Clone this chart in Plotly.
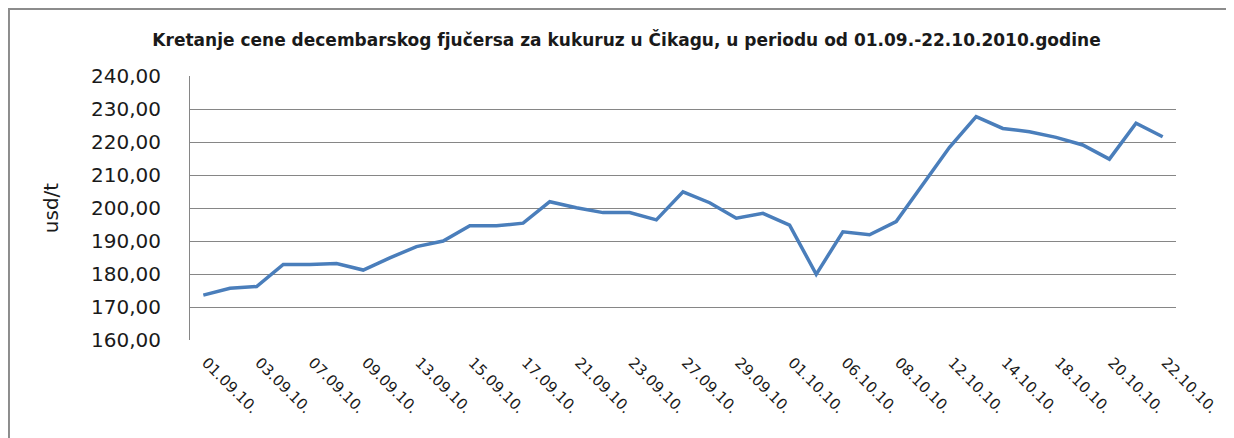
import plotly.graph_objects as go

dates = ["01.09.10.", "02.09.10.", "03.09.10.", "06.09.10.", "07.09.10.", "08.09.10.",
         "09.09.10.", "10.09.10.", "13.09.10.", "14.09.10.", "15.09.10.", "16.09.10.",
         "17.09.10.", "20.09.10.", "21.09.10.", "22.09.10.", "23.09.10.", "24.09.10.",
         "27.09.10.", "28.09.10.", "29.09.10.", "30.09.10.", "01.10.10.", "05.10.10.",
         "06.10.10.", "07.10.10.", "08.10.10.", "11.10.10.", "12.10.10.", "13.10.10.",
         "14.10.10.", "15.10.10.", "18.10.10.", "19.10.10.", "20.10.10.", "21.10.10.",
         "22.10.10."]
prices = [173.6, 175.7, 176.2, 182.9, 182.9, 183.2, 181.2, 184.9, 188.3, 190.0,
          194.6, 194.6, 195.4, 201.9, 200.1, 198.6, 198.6, 196.4, 204.9, 201.6,
          196.9, 198.4, 194.8, 179.9, 192.8, 191.9, 195.9, 207.0, 218.4, 227.7,
          224.1, 223.1, 221.4, 219.1, 214.8, 225.7, 221.6]
tick_labels = dates[::2]

title = "Kretanje cene decembarskog fjučersa za kukuruz u Čikagu, u periodu od 01.09.-22.10.2010.godine"

fig = go.Figure()
fig.add_trace(go.Scatter(x=dates, y=prices, mode="lines",
                         line=dict(color="#4a7ebb", width=3.5), showlegend=False))

fig.update_layout(
    width=1226, height=430,
    margin=dict(l=182, r=58, t=68, b=98, autoexpand=False),
    paper_bgcolor="white", plot_bgcolor="white",
    separators=",.",
    title=dict(text="<b>" + title + "</b>", x=0.5045, xanchor="center", y=0.9256, yanchor="middle",
               font=dict(family="DejaVu Sans", size=17, color="#1a1a1a")),
    xaxis=dict(type="category", range=[-0.5, len(dates) - 0.5],
               tickmode="array", tickvals=tick_labels, ticktext=tick_labels,
               tickangle=45, showgrid=False, showline=False, ticks="", automargin=False,
               tickfont=dict(family="DejaVu Sans", size=15, color="#1a1a1a"),
               ticklabelstandoff=10, ticklabelshift=3),
    yaxis=dict(range=[160, 240], dtick=10, tickformat=".2f", showgrid=True,
               gridcolor="#868686", gridwidth=1, showline=True, linecolor="#868686",
               linewidth=1, zeroline=False, ticks="", automargin=False,
               tickfont=dict(family="DejaVu Sans", size=20, color="#1a1a1a"),
               ticklabelstandoff=24,
               title=dict(text="usd/t", font=dict(family="DejaVu Sans", size=20, color="#1a1a1a"),
                          standoff=27)),
    shapes=[dict(type="rect", xref="paper", yref="paper", x0=-0.1836, y0=-0.45,
                 x1=1.10, y1=1.2538, line=dict(color="#8c8c8c", width=2), layer="below")],
)

fig.write_html("out.html")
